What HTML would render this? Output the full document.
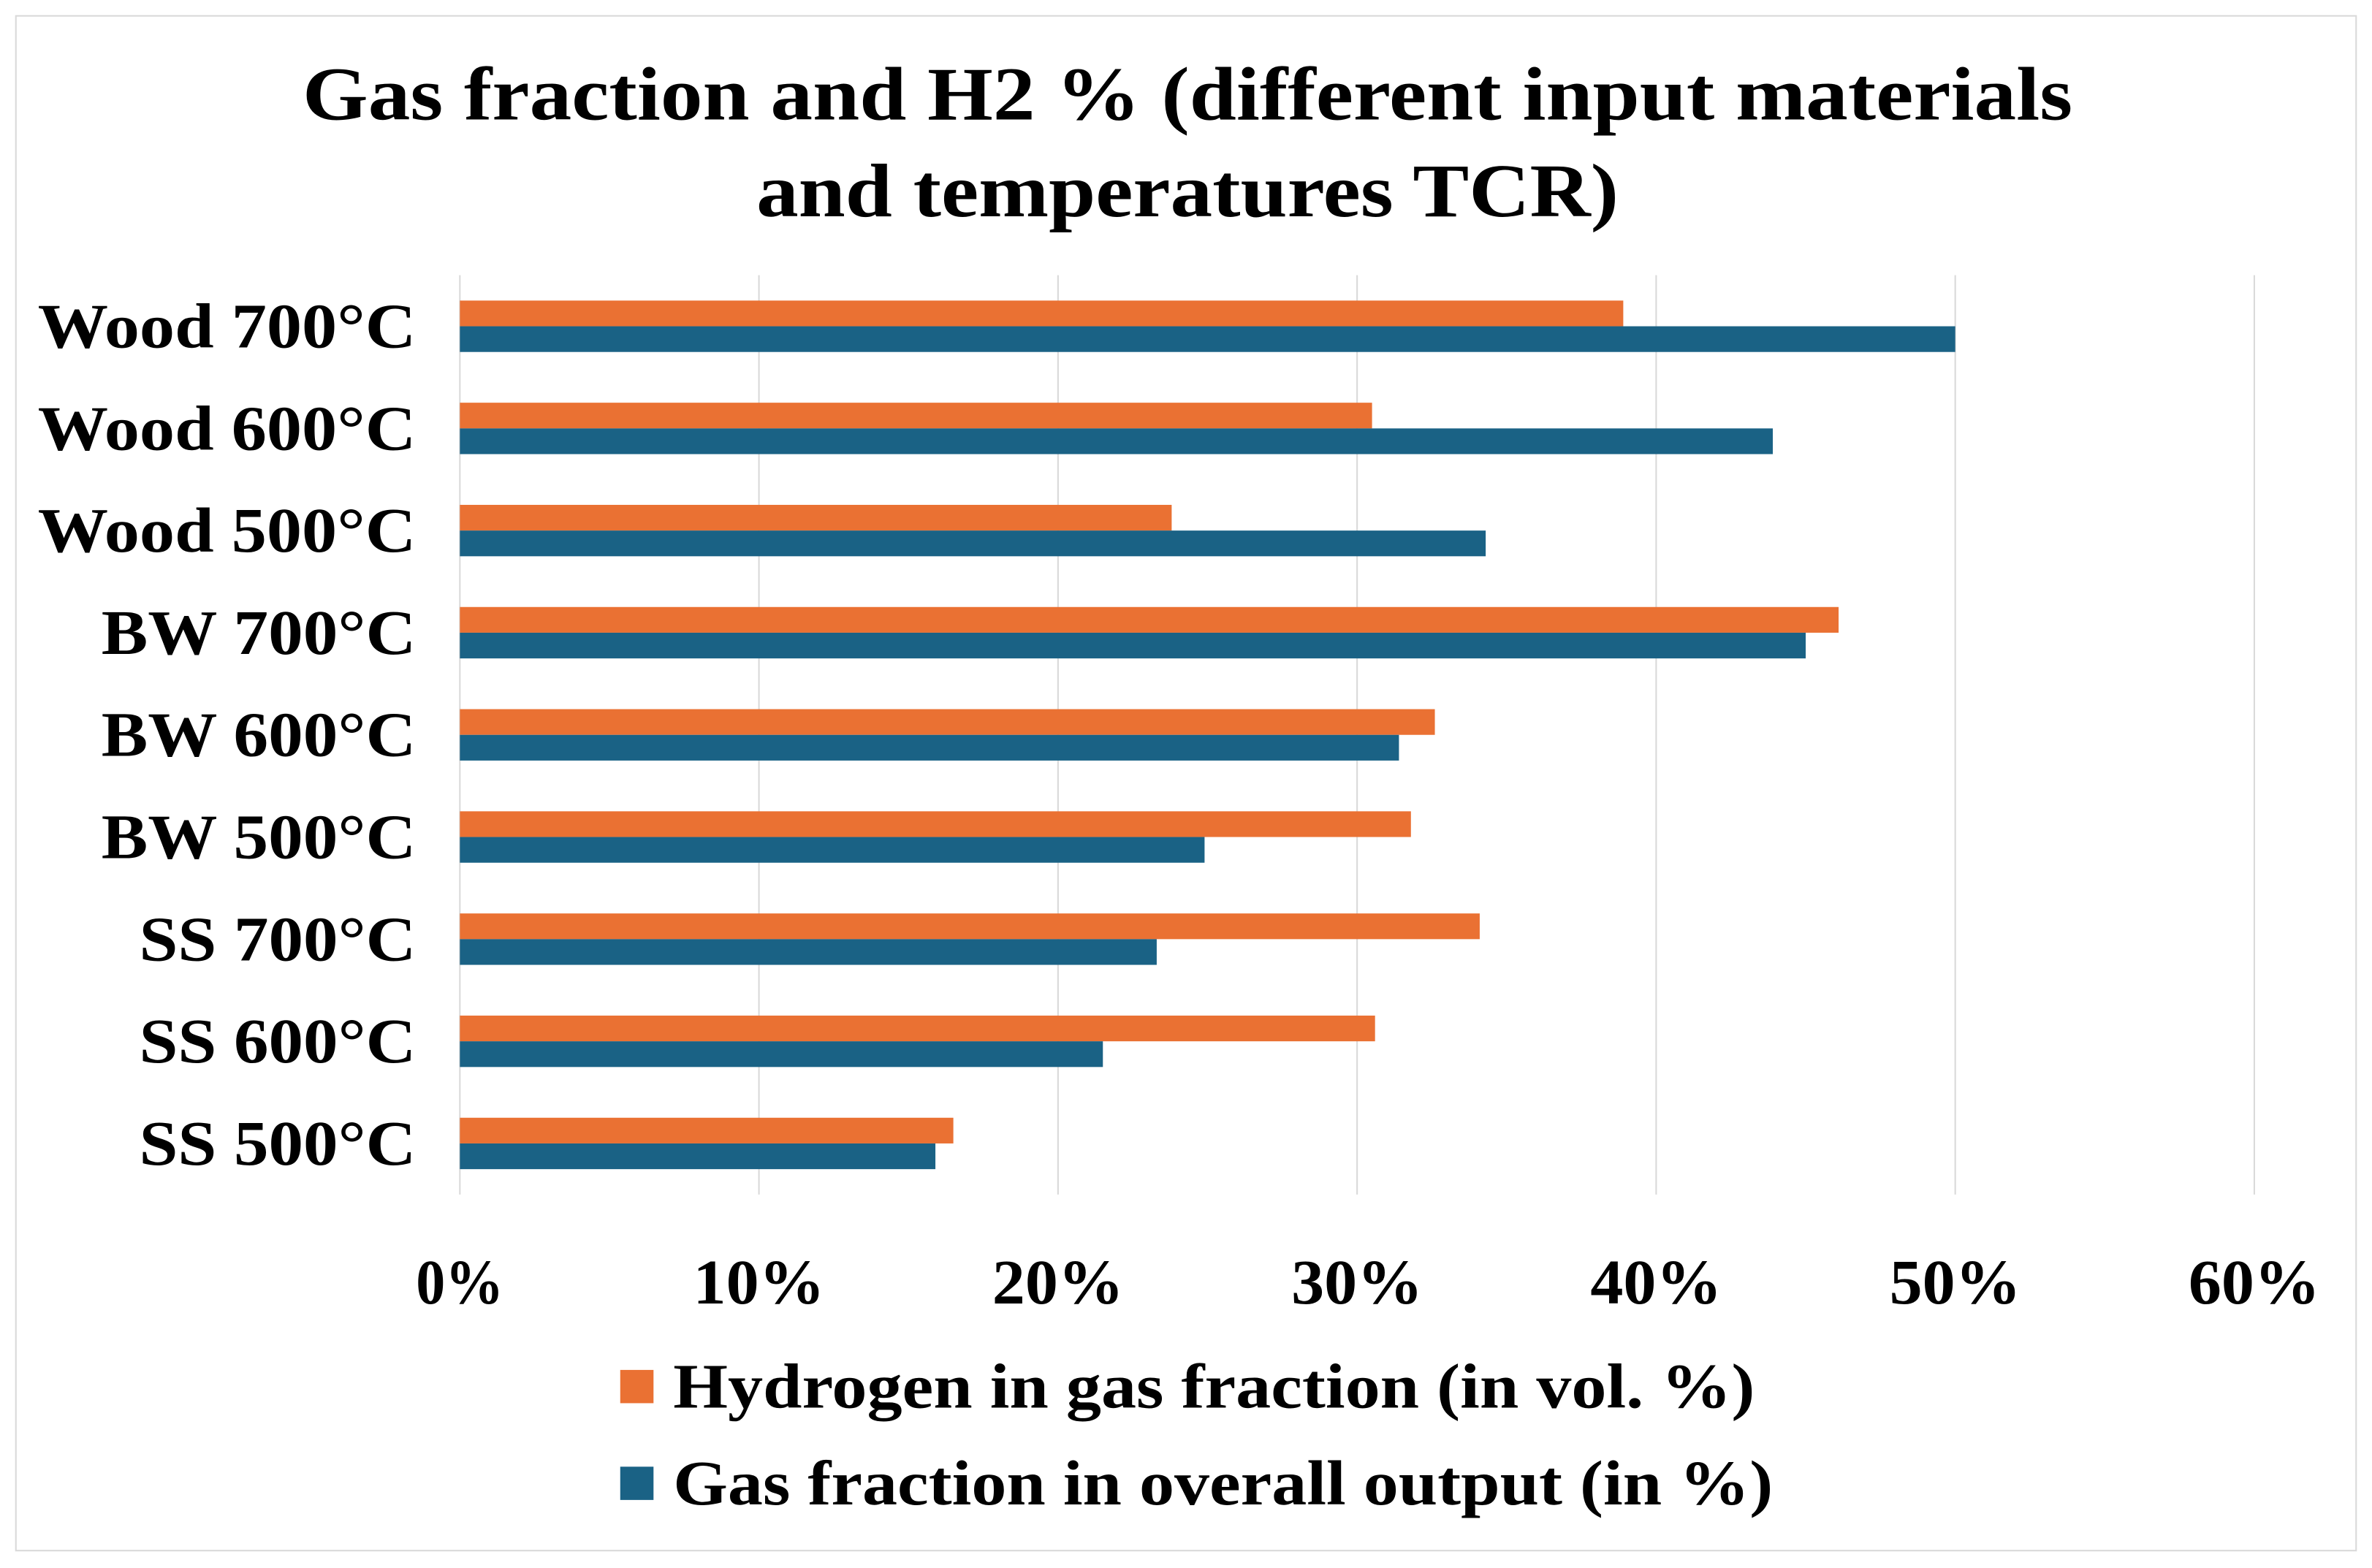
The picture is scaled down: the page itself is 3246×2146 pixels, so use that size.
<!DOCTYPE html>
<html><head><meta charset="utf-8"><style>
html,body{margin:0;padding:0;background:#fff;}
svg{display:block;}
text{font-family:"Liberation Serif",serif;font-weight:bold;fill:#000;}
</style></head><body>
<svg id="chart" width="3246" height="2146" viewBox="0 0 1568 1037" preserveAspectRatio="none" xmlns="http://www.w3.org/2000/svg">
<rect x="10.5" y="10.5" width="1547" height="1015" fill="#fff" stroke="#d9d9d9" stroke-width="1"/>
<text x="200" y="79" font-size="50" textLength="1170" lengthAdjust="spacingAndGlyphs">Gas fraction and H2 % (different input materials</text>
<text x="500" y="143" font-size="50" textLength="570" lengthAdjust="spacingAndGlyphs">and temperatures TCR)</text>
<g id="grid"></g>
<g id="bars"></g>
<g id="labels"></g>
<g id="ticks"></g>
<g>
<rect x="410" y="906" width="22" height="22" fill="#ea7133"/>
<text x="445" y="931" font-size="42" textLength="715" lengthAdjust="spacingAndGlyphs">Hydrogen in gas fraction (in vol. %)</text>
<rect x="410" y="970" width="22" height="22" fill="#1a6285"/>
<text x="445" y="995" font-size="42" textLength="727" lengthAdjust="spacingAndGlyphs">Gas fraction in overall output (in %)</text>
</g>
</svg>
<script>
const categories=["Wood 700°C","Wood 600°C","Wood 500°C","BW 700°C","BW 600°C","BW 500°C","SS 700°C","SS 600°C","SS 500°C"];
const hydrogen=[38.9,30.5,23.8,46.1,32.6,31.8,34.1,30.6,16.5];
const gasFraction=[50.0,43.9,34.3,45.0,31.4,24.9,23.3,21.5,15.9];
const tickValues=[0,10,20,30,40,50,60];
const tickLabels=["0%","10%","20%","30%","40%","50%","60%"];
const NS="http://www.w3.org/2000/svg";
const x0=304,pxPer=19.77,plotTop=182,plotBottom=790;
const band=(plotBottom-plotTop)/categories.length;
const xs=v=>x0+v*pxPer;
const yb=i=>plotTop+i*band;
function mk(t,a,p){const e=document.createElementNS(NS,t);for(const k in a)e.setAttribute(k,a[k]);p.appendChild(e);return e;}
const grid=document.getElementById('grid'),bars=document.getElementById('bars'),labels=document.getElementById('labels'),ticks=document.getElementById('ticks');
tickValues.forEach((v,i)=>{
 const l=mk('line',{x1:xs(v),x2:xs(v),y1:plotTop,y2:plotBottom,stroke:'#d9d9d9','stroke-width':1},grid);
 
 
 const w=tickLabels[i].length*29;
 const t=mk('text',{x:xs(v)-w/2,y:862,'font-size':42,textLength:w,lengthAdjust:'spacingAndGlyphs'},ticks);
 t.textContent=tickLabels[i];
 
 
});
const bh=17;
categories.forEach((c,i)=>{
 const mid=yb(i)+band/2;
 const r1=mk('rect',{x:x0,y:mid-bh,width:xs(hydrogen[i])-x0,height:bh,fill:'#ea7133'},bars);
 
 
 const r2=mk('rect',{x:x0,y:mid,width:xs(gasFraction[i])-x0,height:bh,fill:'#1a6285'},bars);
 
 
 const w=c.startsWith('Wood')?250:(c.startsWith('BW')?208:183);
 const t=mk('text',{x:275-w,y:mid+14,'font-size':42,textLength:w,lengthAdjust:'spacingAndGlyphs'},labels);
 t.textContent=c;
 
 
});
</script>
</body></html>
